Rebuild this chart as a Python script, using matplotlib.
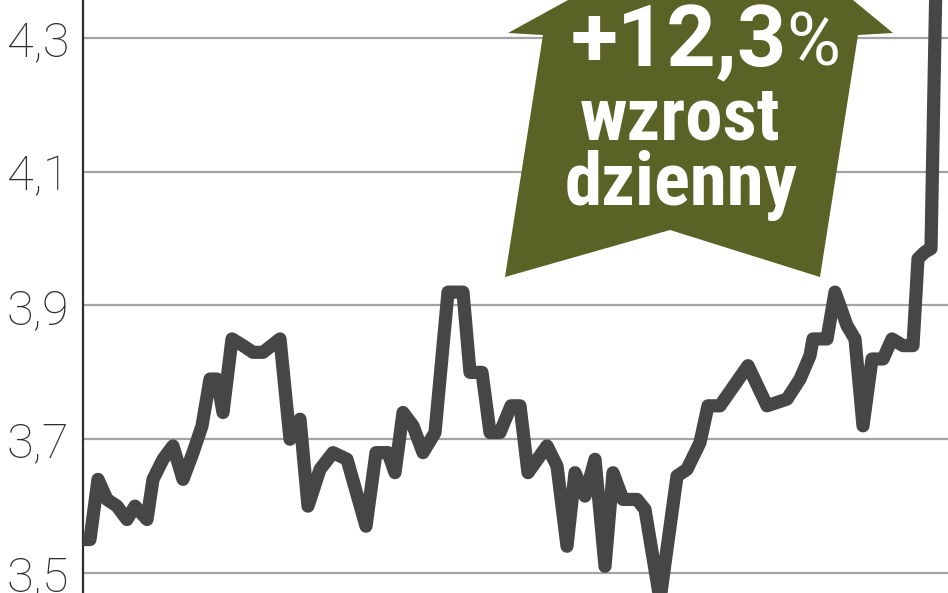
import matplotlib
matplotlib.use("Agg")
import matplotlib.pyplot as plt
from matplotlib.patches import Polygon

# ---- data ----
days = [0, 1, 2.6, 4.4, 6.4, 8.4, 10, 12.4, 13.6, 15.6, 17.6, 19.6, 21.6, 23.4,
        25, 26.4, 27.6, 29.4, 31.6, 33.6, 35.6, 39, 40.6, 41, 43, 44.6, 47, 49.6,
        52.4, 56.2, 58.2, 60.6, 62, 63.6, 65.6, 67.6, 70, 72.6, 75.6, 77, 79.4,
        81, 83, 85.2, 87, 88.6, 92.4, 94.4, 96.4, 98, 100, 102, 104, 105.6,
        107.6, 110.4, 112, 115, 118.4, 120.4, 123, 124.6, 127, 132.6, 136.4,
        140.4, 143, 145, 145.6, 148.4, 150, 152.4, 154, 155.6, 157.4, 159.6,
        161.4, 163.6, 165.6, 166.6, 168, 169.2, 170.4]
prices = [3.55, 3.55, 3.64, 3.61, 3.60, 3.58, 3.60, 3.58, 3.64, 3.67, 3.69,
          3.64, 3.68, 3.72, 3.79, 3.79, 3.74, 3.85, 3.84, 3.83, 3.83, 3.85,
          3.73, 3.70, 3.73, 3.60, 3.655, 3.68, 3.67, 3.57, 3.68, 3.68, 3.65,
          3.74, 3.72, 3.68, 3.71, 3.92, 3.92, 3.80, 3.80, 3.71, 3.71, 3.75,
          3.75, 3.65, 3.69, 3.66, 3.54, 3.65, 3.615, 3.67, 3.51, 3.65, 3.61,
          3.61, 3.595, 3.46, 3.645, 3.655, 3.695, 3.75, 3.75, 3.81, 3.75, 3.76,
          3.79, 3.825, 3.85, 3.85, 3.92, 3.87, 3.85, 3.72, 3.82, 3.82, 3.85,
          3.84, 3.84, 3.97, 3.98, 3.985, 4.47]
yticks = [3.5, 3.7, 3.9, 4.1, 4.3]
ytick_labels = ["3,5", "3,7", "3,9", "4,1", "4,3"]
badge_value = "+12,3"
badge_unit = "%"
badge_line1 = "wzrost"
badge_line2 = "dzienny"

W, H = 948, 593
fig = plt.figure(figsize=(W / 100, H / 100), dpi=100)
ax_left = 83 / W
ax = fig.add_axes([ax_left, 0, 1 - ax_left, 1])

ax.plot(days, prices, color="#464646", lw=9.5, solid_joinstyle="round",
        solid_capstyle="round", zorder=3)

ax.set_xlim(-0.4, 172.6)
ax.set_ylim(3.4701, 4.3568)
ax.set_xticks([])
ax.set_yticks(yticks)
ax.set_yticklabels(ytick_labels)
ax.tick_params(axis="y", length=0, pad=10, labelsize=35, labelcolor="#2e2e2e")
for lab in ax.get_yticklabels():
    lab.set_family(["Roboto", "DejaVu Sans"])
    lab.set_fontweight("light")
ax.yaxis.grid(True, color="#a3a3a3", lw=1.6, zorder=1)
ax.set_axisbelow(True)
for s in ["top", "right", "bottom"]:
    ax.spines[s].set_visible(False)
ax.spines["left"].set_color("#2e2e2e")
ax.spines["left"].set_linewidth(1.6)

# ---- badge arrow (pixel-designed, converted to figure fraction) ----
def f(px, py):
    return (px / W, 1 - py / H)

arrow_px = [(508, 33), (543, 35), (505, 277), (670, 230), (820, 277),
            (858, 35), (893, 33), (739, -94)]
poly = Polygon([f(*p) for p in arrow_px], closed=True, facecolor="#5a6226",
               edgecolor="none", transform=fig.transFigure, zorder=5,
               clip_on=False)
fig.add_artist(poly)

fam = ["Roboto Condensed", "Roboto", "DejaVu Sans"]
fig.text(*f(787, 66), badge_value, ha="right", va="baseline",
         color="white", fontsize=62, fontweight="bold",
         family=["Roboto", "DejaVu Sans"], zorder=6)
fig.text(*f(786, 66), badge_unit, ha="left", va="baseline", color="white",
         fontsize=53, fontweight="normal", family=["Roboto", "DejaVu Sans"],
         zorder=6)
fig.text(*f(680, 140), badge_line1, ha="center", va="baseline",
         color="white", fontsize=54, fontweight="bold", family=fam, zorder=6)
fig.text(*f(681, 205), badge_line2, ha="center", va="baseline",
         color="white", fontsize=54, fontweight="bold", family=fam, zorder=6)

fig.savefig("out.png", dpi=100)
